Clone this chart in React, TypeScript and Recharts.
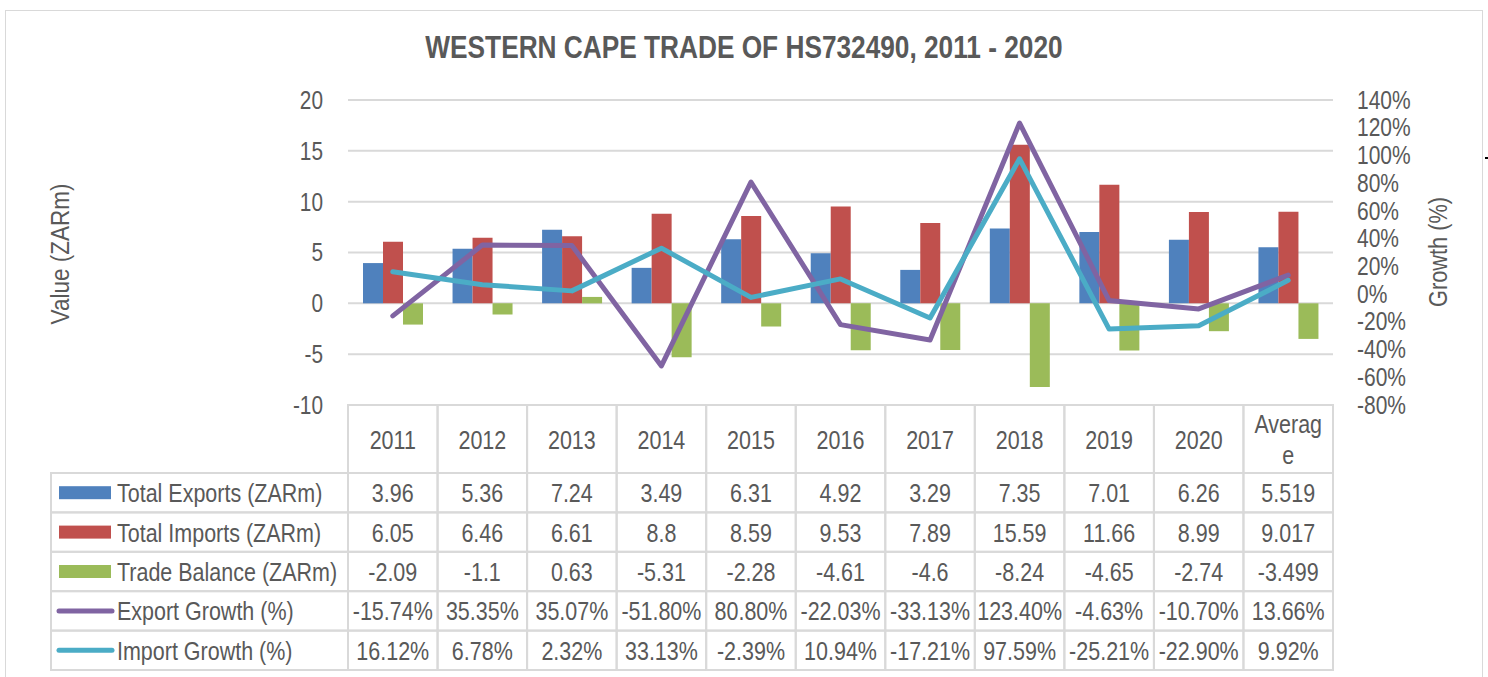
import * as React from 'react'
import { Bar, CartesianGrid, ComposedChart, Line, XAxis, YAxis } from 'recharts'

const years = ['2011', '2012', '2013', '2014', '2015', '2016', '2017', '2018', '2019', '2020', 'Average']
const totalExports = [3.96, 5.36, 7.24, 3.49, 6.31, 4.92, 3.29, 7.35, 7.01, 6.26, 5.519]
const totalImports = [6.05, 6.46, 6.61, 8.8, 8.59, 9.53, 7.89, 15.59, 11.66, 8.99, 9.017]
const tradeBalance = [-2.09, -1.1, 0.63, -5.31, -2.28, -4.61, -4.6, -8.24, -4.65, -2.74, -3.499]
const exportGrowth = [-15.74, 35.35, 35.07, -51.8, 80.8, -22.03, -33.13, 123.4, -4.63, -10.7, 13.66]
const importGrowth = [16.12, 6.78, 2.32, 33.13, -2.39, 10.94, -17.21, 97.59, -25.21, -22.9, 9.92]
const valueTicks = [-10, -5, 0, 5, 10, 15, 20]
const growthTicks = [-80, -60, -40, -20, 0, 20, 40, 60, 80, 100, 120, 140]

// no narrow face installed, so text is squeezed horizontally to look like Arial Narrow
const FONT = '"Liberation Sans", Arial, sans-serif'
const TEXT = '#595959'
const GRID = '#d9d9d9'

const W = 1488
const H = 677
const PLOT_LEFT = 348
const PLOT_RIGHT = 1333
const PLOT_TOP = 100
const PLOT_BOTTOM = 405
const BAND = (PLOT_RIGHT - PLOT_LEFT) / years.length
const HEADER_H = 68
const ROW_H = 39.4
const LEGEND_W = 297
const SQUEEZE = 0.86

type SeriesRow = {
  name: string
  color: string
  kind: 'bar' | 'line'
  values: number[]
  format: (v: number) => string
}

const plain = (v: number) => String(v)
const pct = (v: number) => `${v.toFixed(2)}%`

const rows: SeriesRow[] = [
  { name: 'Total Exports (ZARm)', color: '#4F81BD', kind: 'bar', values: totalExports, format: plain },
  { name: 'Total Imports (ZARm)', color: '#C0504D', kind: 'bar', values: totalImports, format: plain },
  { name: 'Trade Balance (ZARm)', color: '#9BBB59', kind: 'bar', values: tradeBalance, format: plain },
  { name: 'Export Growth (%)', color: '#8064A2', kind: 'line', values: exportGrowth, format: pct },
  { name: 'Import Growth (%)', color: '#4BACC6', kind: 'line', values: importGrowth, format: pct },
]

const data = years.map((year, i) => ({
  year,
  exports: totalExports[i],
  imports: totalImports[i],
  balance: tradeBalance[i],
  exportGrowth: exportGrowth[i],
  importGrowth: importGrowth[i],
}))

function NarrowText({
  x,
  y,
  anchor = 'middle',
  size = 25,
  scale = SQUEEZE,
  children,
}: {
  x: number
  y: number
  anchor?: 'start' | 'middle' | 'end'
  size?: number
  scale?: number
  children: React.ReactNode
}) {
  return (
    <text
      transform={`translate(${x},${y}) scale(${scale},1)`}
      textAnchor={anchor}
      dominantBaseline="central"
      fontFamily={FONT}
      fontSize={size}
      fill={TEXT}
    >
      {children}
    </text>
  )
}

function ValueTick(props: any) {
  const { x, y, payload } = props
  return (
    <NarrowText x={x} y={y} anchor="end" size={26} scale={0.8}>
      {payload.value}
    </NarrowText>
  )
}

function GrowthTick(props: any) {
  const { x, y, payload } = props
  return (
    <NarrowText x={x} y={y} anchor="start" size={25} scale={0.84}>
      {`${payload.value}%`}
    </NarrowText>
  )
}

// each x tick draws one column of the data table (and the first one the legend column too)
function TableColumn(props: any) {
  const { x, y, payload, index } = props
  const left = x - BAND / 2
  const label = String(payload.value)
  const i = years.indexOf(label)
  const top = y

  const headerLines = label === 'Average' ? ['Averag', 'e'] : [label]

  return (
    <g>
      <rect x={left} y={top} width={BAND} height={HEADER_H} fill="none" stroke={GRID} strokeWidth={2} />
      {headerLines.map((line, k) => (
        <NarrowText key={k} x={x} y={top + HEADER_H / 2 + 1 + (k - (headerLines.length - 1) / 2) * 31}>
          {line}
        </NarrowText>
      ))}
      {rows.map((row, r) => {
        const ry = top + HEADER_H + r * ROW_H
        return (
          <g key={row.name}>
            <rect x={left} y={ry} width={BAND} height={ROW_H} fill="none" stroke={GRID} strokeWidth={2} />
            <NarrowText x={x} y={ry + ROW_H / 2 + 1}>
              {row.format(row.values[i])}
            </NarrowText>
          </g>
        )
      })}
      {index === 0 &&
        rows.map((row, r) => {
          const ry = top + HEADER_H + r * ROW_H
          const lx = left - LEGEND_W
          return (
            <g key={'legend-' + row.name}>
              <rect x={lx} y={ry} width={LEGEND_W} height={ROW_H} fill="none" stroke={GRID} strokeWidth={2} />
              {row.kind === 'bar' ? (
                <rect x={lx + 8} y={ry + ROW_H / 2 - 6.5} width={52} height={13} fill={row.color} />
              ) : (
                <line
                  x1={lx + 8}
                  x2={lx + 61}
                  y1={ry + ROW_H / 2}
                  y2={ry + ROW_H / 2}
                  stroke={row.color}
                  strokeWidth={5}
                  strokeLinecap="round"
                />
              )}
              <NarrowText x={lx + 66} y={ry + ROW_H / 2 + 1} anchor="start">
                {row.name}
              </NarrowText>
            </g>
          )
        })}
    </g>
  )
}

export default function App() {
  return (
    <div style={{ position: 'absolute', left: 0, top: 0, width: W, height: H, overflow: 'hidden', background: '#fff' }}>
      <div
        style={{
          position: 'absolute',
          left: 5,
          top: 10,
          width: 1476,
          height: 720,
          border: `1.5px solid ${GRID}`,
        }}
      />
      {/* stray dash just outside the frame in the source image */}
      <div style={{ position: 'absolute', left: 1485, top: 157, width: 3, height: 2, background: '#000' }} />
      <div
        style={{
          position: 'absolute',
          left: 0,
          width: 1488,
          top: 29,
          textAlign: 'center',
          fontFamily: FONT,
          fontWeight: 'bold',
          fontSize: 32,
          color: TEXT,
          transform: 'scaleX(0.82)',
        }}
      >
        WESTERN CAPE TRADE OF HS732490, 2011 - 2020
      </div>
      <div
        style={{
          position: 'absolute',
          left: 60,
          top: 254,
          transform: 'translate(-50%, -50%) rotate(-90deg) scaleX(0.9)',
          fontFamily: FONT,
          fontSize: 25,
          color: TEXT,
          whiteSpace: 'nowrap',
        }}
      >
        Value (ZARm)
      </div>
      <div
        style={{
          position: 'absolute',
          left: 1438,
          top: 252,
          transform: 'translate(-50%, -50%) rotate(-90deg) scaleX(0.87)',
          fontFamily: FONT,
          fontSize: 25,
          color: TEXT,
          whiteSpace: 'nowrap',
        }}
      >
        Growth (%)
      </div>
      <div style={{ position: 'absolute', left: 0, top: 0 }}>
        <ComposedChart
          width={W}
          height={H}
          data={data}
          margin={{ top: PLOT_TOP, right: 0, bottom: 0, left: 0 }}
          barGap={0}
        >
          <CartesianGrid yAxisId="value" vertical={false} stroke={GRID} strokeWidth={2} />
          <XAxis
            dataKey="year"
            height={H - PLOT_BOTTOM}
            axisLine={false}
            tickLine={false}
            tickSize={0}
            tickMargin={0}
            interval={0}
            tick={<TableColumn />}
          />
          <YAxis
            yAxisId="value"
            orientation="left"
            width={PLOT_LEFT}
            domain={[-10, 20]}
            ticks={valueTicks}
            axisLine={false}
            tickLine={false}
            tickSize={0}
            tickMargin={25}
            tick={<ValueTick />}
          />
          <YAxis
            yAxisId="growth"
            orientation="right"
            width={W - PLOT_RIGHT}
            domain={[-80, 140]}
            ticks={growthTicks}
            interval={0}
            axisLine={false}
            tickLine={false}
            tickSize={0}
            tickMargin={24}
            tick={<GrowthTick />}
          />
          <Bar yAxisId="value" dataKey="exports" name={rows[0].name} fill={rows[0].color} barSize={20} isAnimationActive={false} />
          <Bar yAxisId="value" dataKey="imports" name={rows[1].name} fill={rows[1].color} barSize={20} isAnimationActive={false} />
          <Bar yAxisId="value" dataKey="balance" name={rows[2].name} fill={rows[2].color} barSize={20} isAnimationActive={false} />
          <Line
            yAxisId="growth"
            type="linear"
            dataKey="exportGrowth"
            name={rows[3].name}
            stroke={rows[3].color}
            strokeWidth={5}
            strokeLinecap="round"
            strokeLinejoin="round"
            dot={false}
            isAnimationActive={false}
          />
          <Line
            yAxisId="growth"
            type="linear"
            dataKey="importGrowth"
            name={rows[4].name}
            stroke={rows[4].color}
            strokeWidth={5}
            strokeLinecap="round"
            strokeLinejoin="round"
            dot={false}
            isAnimationActive={false}
          />
        </ComposedChart>
      </div>
    </div>
  )
}
